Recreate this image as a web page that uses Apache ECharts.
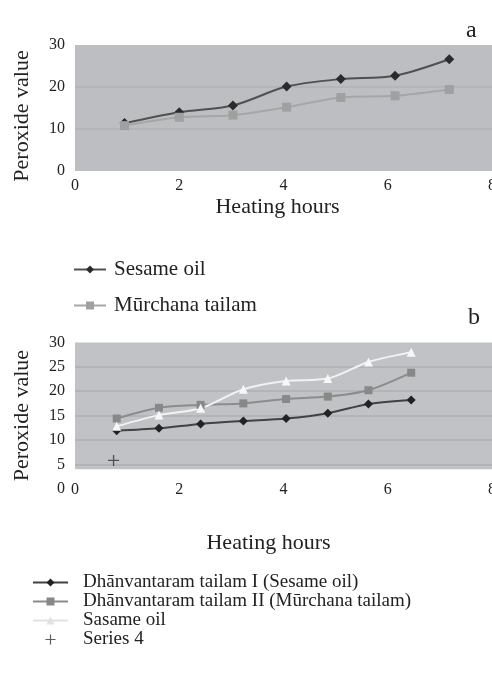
<!DOCTYPE html>
<html><head><meta charset="utf-8">
<script src="https://cdn.jsdelivr.net/npm/echarts@6/dist/echarts.min.js"></script>
<style>html,body{margin:0;padding:0;background:#fff}#c{width:492px;height:687px}</style>
</head><body><div id="c"></div>
<script>
// ---- data ----
const hoursA = [0.95, 2.0, 3.03, 4.06, 5.1, 6.14, 7.18];
const sesameA = [11.4, 14.0, 15.6, 20.1, 21.9, 22.7, 26.6];
const murchanaA = [10.8, 12.8, 13.3, 15.2, 17.5, 17.9, 19.4];
const hoursB = [0.8, 1.61, 2.41, 3.23, 4.05, 4.85, 5.63, 6.45];
const dhanI = [11.9, 12.4, 13.3, 13.9, 14.4, 15.5, 17.4, 18.2];
const dhanII = [14.4, 16.6, 17.2, 17.5, 18.4, 18.9, 20.2, 23.8];
const sasame = [12.8, 15.1, 16.5, 20.4, 22.1, 22.6, 26.0, 28.0];
const series4X = [0.74];
const series4Y = [5.8];
const namesA = ['Sesame oil', 'M\u016Brchana tailam'];
const namesB = ['Dh\u0101nvantaram tailam I (Sesame oil)', 'Dh\u0101nvantaram tailam II (M\u016Brchana tailam)', 'Sasame oil', 'Series 4'];
const xLabel = 'Heating hours';
const yLabel = 'Peroxide value';

const pair = (xs, ys) => xs.map((x, i) => [x, ys[i]]);
const F = 'Liberation Serif';
const T = '#222';
const splitColors = ['rgba(0,0,0,0)', '#adb0b3', '#adb0b3', '#adb0b3', '#adb0b3', '#adb0b3', 'rgba(0,0,0,0)'];
const plus = 'path://M4.4,0h1.2v10h-1.2z M0,4.4h10v1.2h-10z';

const chart = echarts.init(document.getElementById('c'), null, {renderer: 'canvas'});
const xAx = (gi, margin, gap, padR) => ({
  type: 'value', gridIndex: gi, min: 0, max: 8, interval: 2,
  axisLine: {show: false}, axisTick: {show: false}, splitLine: {show: false},
  axisLabel: {fontFamily: F, fontSize: 16, color: T, margin: margin},
  name: xLabel, nameLocation: 'middle', nameGap: gap,
  nameTextStyle: {fontFamily: F, fontSize: 22, color: T, padding: [0, padR, 0, 0]}
});
const yAx = (gi, interval, gap, z, padR) => ({
  type: 'value', gridIndex: gi, min: 0, max: 30, interval: interval, z: z,
  axisLine: {show: false}, axisTick: {show: false},
  splitLine: {show: true, lineStyle: {color: interval === 10 ? ['rgba(0,0,0,0)', '#b1b3b6', '#b1b3b6', 'rgba(0,0,0,0)'] : splitColors, width: 1.5}},
  axisLabel: {fontFamily: F, fontSize: 16, color: T, margin: 10},
  name: yLabel, nameLocation: 'middle', nameGap: gap, nameRotate: 90,
  nameTextStyle: {fontFamily: F, fontSize: 22, color: T, padding: [0, padR, 0, 0]}
});

chart.setOption({
  animation: false,
  backgroundColor: '#fff',
  title: [
    {text: 'a', left: 461, top: 14, textStyle: {fontFamily: F, fontSize: 24, fontWeight: 'normal', color: T}},
    {text: 'b', left: 463, top: 301, textStyle: {fontFamily: F, fontSize: 24, fontWeight: 'normal', color: T}}
  ],
  grid: [
    {left: 75, right: 0, top: 45, height: 126, show: true, backgroundColor: '#bcbec1', borderWidth: 0, outerBoundsMode: 'none', containLabel: false},
    {left: 75, right: 0, top: 342.5, height: 146.2, outerBoundsMode: 'none', containLabel: false}
  ],
  xAxis: [xAx(0, 7, 25, 12), xAx(1, -7, 44, 30)],
  yAxis: [yAx(0, 10, 42, 0, 16), yAx(1, 5, 42, 2, 0)],
  legend: [
    {data: namesA, orient: 'vertical', left: 73, top: 259, padding: 0, itemWidth: 32, itemHeight: 10, itemGap: 15,
     textStyle: {fontFamily: F, fontSize: 21, color: T, padding: [0, 0, 0, 3]}},
    {data: [namesB[0], namesB[1], {name: namesB[2], itemStyle: {color: '#e2e2e2'}, lineStyle: {color: '#e2e2e2'}}, namesB[3]],
     orient: 'vertical', left: 32, top: 573, padding: 0, itemWidth: 35, itemHeight: 10, itemGap: 0,
     textStyle: {fontFamily: F, fontSize: 19, color: T, padding: [0, 0, 0, 10]}}
  ],
  series: [
    {name: namesA[0], type: 'line', xAxisIndex: 0, yAxisIndex: 0, data: pair(hoursA, sesameA), smooth: 0.3,
     symbol: 'diamond', symbolSize: 10, lineStyle: {color: '#505050', width: 2}, itemStyle: {color: '#2b2b2b'}, z: 3},
    {name: namesA[1], type: 'line', xAxisIndex: 0, yAxisIndex: 0, data: pair(hoursA, murchanaA), smooth: 0.3,
     symbol: 'rect', symbolSize: 9, lineStyle: {color: '#a6a6a6', width: 2}, itemStyle: {color: '#a0a0a0'}, z: 3},
    {type: 'line', xAxisIndex: 1, yAxisIndex: 1, data: [], silent: true, z: 1,
     markArea: {silent: true, itemStyle: {color: '#c0c2c5'}, data: [[{coord: [0, 4]}, {coord: [8, 30]}]]}},
    {name: namesB[0], type: 'line', xAxisIndex: 1, yAxisIndex: 1, data: pair(hoursB, dhanI), smooth: 0.3,
     symbol: 'diamond', symbolSize: 9, lineStyle: {color: '#424242', width: 2}, itemStyle: {color: '#222'}, z: 3},
    {name: namesB[1], type: 'line', xAxisIndex: 1, yAxisIndex: 1, data: pair(hoursB, dhanII), smooth: 0.3,
     symbol: 'rect', symbolSize: 8, lineStyle: {color: '#8c8c8c', width: 2}, itemStyle: {color: '#888'}, z: 3},
    {name: namesB[2], type: 'line', xAxisIndex: 1, yAxisIndex: 1, data: pair(hoursB, sasame), smooth: 0.3,
     symbol: 'triangle', symbolSize: 9, lineStyle: {color: '#f2f2f2', width: 2}, itemStyle: {color: '#f7f7f7'}, z: 3},
    {name: namesB[3], type: 'scatter', xAxisIndex: 1, yAxisIndex: 1, data: pair(series4X, series4Y),
     symbol: plus, symbolSize: 11, itemStyle: {color: '#333'}, z: 3}
  ]
});
</script></body></html>
